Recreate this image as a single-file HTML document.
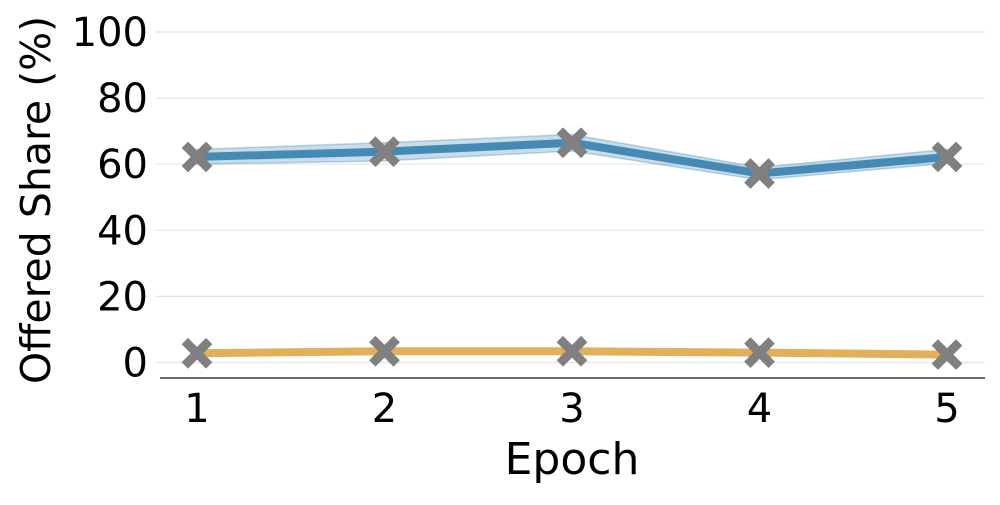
<!DOCTYPE html>
<html><head><meta charset="utf-8"><style>
body{margin:0;background:#fff}
svg text{font-family:"DejaVu Sans","Liberation Sans",sans-serif;fill:#000}
</style></head><body>
<svg id="chart" width="1000" height="500" viewBox="0 0 1000 500"></svg>
<script>
const epochs=[1,2,3,4,5];
const blueMean=[62.2,63.8,66.5,57.2,62.2];
const blueLow=[60.0,61.0,64.0,55.3,60.3];
const blueHigh=[64.5,66.5,69.0,59.0,64.5];
const orangeMean=[2.8,3.4,3.4,3.0,2.4];
const yTicks=[0,20,40,60,80,100];
const svg=document.getElementById('chart');
const NS='http://www.w3.org/2000/svg';
const xs=e=>197+(e-1)*187.5;
const ys=v=>362.5-v*3.305;
function mk(t,a,p){const el=document.createElementNS(NS,t);for(const k in a)el.setAttribute(k,a[k]);(p||svg).appendChild(el);return el;}
yTicks.forEach(v=>{
const g=mk('line',{x1:155,x2:985,y1:ys(v),y2:ys(v),stroke:'#e5e5e5','stroke-width':1.2});


const t=mk('text',{x:148,y:ys(v)+14,'text-anchor':'end','font-size':40});
t.textContent=v;


});
const ax=mk('line',{x1:160,x2:985,y1:378,y2:378,stroke:'#111','stroke-width':1.3});


epochs.forEach(e=>{
const t=mk('text',{x:xs(e),y:422,'text-anchor':'middle','font-size':40});
t.textContent=e;


});
const xt=mk('text',{x:572,y:474,'text-anchor':'middle','font-size':44});
xt.textContent='Epoch';


const yt=mk('text',{x:0,y:0,'text-anchor':'middle','font-size':41,transform:'translate(50,200) rotate(-90)'});
yt.textContent='Offered Share (%)';


let d='';epochs.forEach((e,i)=>d+=(i?'L':'M')+xs(e)+','+ys(blueHigh[i]));
for(let i=epochs.length-1;i>=0;i--)d+='L'+xs(epochs[i])+','+ys(blueLow[i]);
const band=mk('path',{d:d+'Z',fill:'#4a8cb5','fill-opacity':0.3,stroke:'#4a8cb5','stroke-opacity':0.35,'stroke-width':1.5});


function line(arr,color,name){
const pts=epochs.map((e,i)=>xs(e)+','+ys(arr[i])).join(' ');
const l=mk('polyline',{points:pts,fill:'none',stroke:color,'stroke-width':8,'stroke-linejoin':'round'});


epochs.forEach((e,i)=>{
const x=xs(e),y=ys(arr[i]),s=9;
const m=mk('path',{d:`M${x-s},${y-s}L${x+s},${y+s}M${x+s},${y-s}L${x-s},${y+s}`,stroke:'#808080','stroke-width':9,'stroke-linecap':'square'});


});
}
line(blueMean,'#448ab5','blue-series-line');
line(orangeMean,'#e0b05a','orange-series-line');
</script>
</body></html>
